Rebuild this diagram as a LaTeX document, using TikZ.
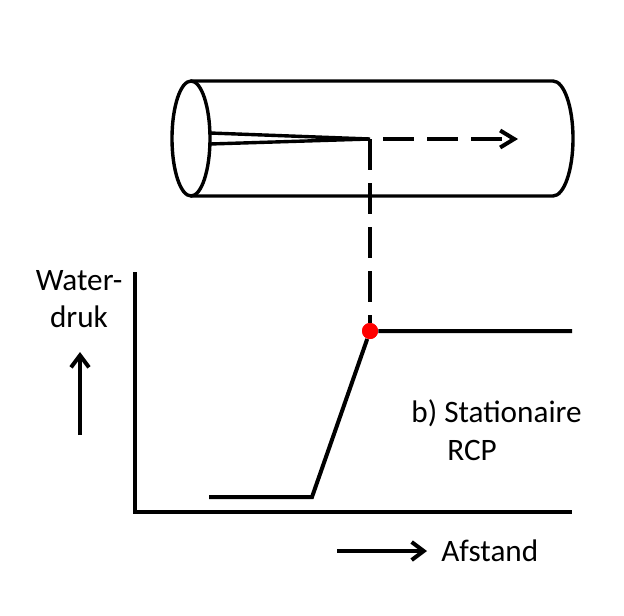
\documentclass[tikz,border=0pt]{standalone}
\usepackage{fontspec}
\setmainfont{Carlito}
\usetikzlibrary{arrows.meta}
\begin{document}
\begin{tikzpicture}[x=0.5pt,y=-0.5pt]
\tikzset{lijn/.style={line width=2pt},
  streep/.style={lijn, dash pattern=on 15.5pt off 6.5pt},
  pijl/.style={lijn, -{Straight Barb[length=6pt,width=9pt]}},
  tekst/.style={font=\fontsize{15.6}{18.7}\selectfont, inner sep=0pt},
  punt/.style={circle, fill=red, minimum size=8pt, inner sep=0pt}}
\useasboundingbox (0,0) rectangle (624,615);
% buis
\draw[line width=1.7pt] (191,138.5) ellipse [x radius=9.5pt, y radius=28.75pt];
\draw[line width=1.7pt, line join=round] (191,81) -- (553,81)
  arc [start angle=90, end angle=-90, x radius=10pt, y radius=57.5*0.5pt] -- (191,196);
\coordinate (tip) at (370,139);
\draw[line width=1.7pt] (210,133) -- (tip) -- (210,144);
\coordinate (pijlkop) at (518,139);
\draw[streep, dash phase=15.5pt, -{Straight Barb[length=7pt,width=8.5pt]}] (tip) -- (pijlkop);
% grafiek
\coordinate (top) at (135,272);
\coordinate (oorsprong) at (135,512);
\coordinate (rechts) at (572,512);
\draw[lijn] (top) -- (oorsprong) -- (rechts);
\node[punt] (knik) at (370,331) {};
\draw[streep] (tip) -- (knik);
\coordinate (begin) at (209,497);
\coordinate (voet) at (312,497);
\coordinate (eind) at (572,331);
\draw[lijn] (begin) -- (voet) -- (knik) -- (eind);
\node[punt] at (knik) {};
% labels
\node[tekst, anchor=base] (water) at (79,290) {Water-};
\node[tekst, anchor=base] (druk) at (79,327) {druk};
\coordinate (omhoog1) at (80,435);
\coordinate (omhoog2) at (80,352);
\draw[pijl] (omhoog1) -- (omhoog2);
\node[tekst, anchor=base west] (stat) at (411,422) {b) Stationaire};
\node[tekst, anchor=base west] (rcp) at (447,460) {RCP};
\coordinate (links) at (337,551);
\coordinate (rechts2) at (427,551);
\draw[pijl] (links) -- (rechts2);
\node[tekst, anchor=base west] (afstand) at (441,561) {Afstand};
\end{tikzpicture}
\end{document}
